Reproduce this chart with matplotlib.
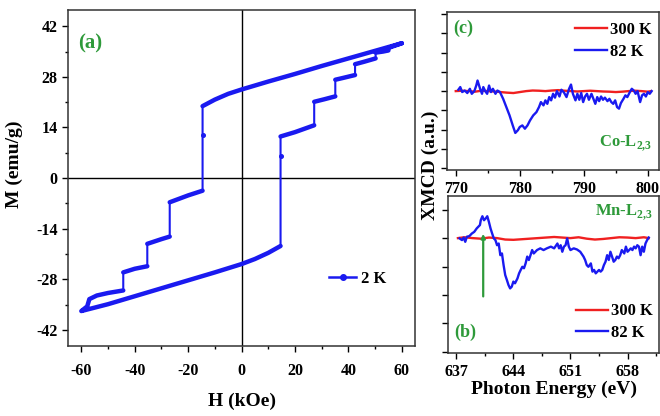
import numpy as np
import matplotlib
matplotlib.use('Agg')
import matplotlib.pyplot as plt
from matplotlib.lines import Line2D
from matplotlib.ticker import MultipleLocator

plt.rcParams['font.family'] = ['Liberation Serif', 'DejaVu Serif']
plt.rcParams['font.weight'] = 'bold'
plt.rcParams['axes.labelweight'] = 'bold'
plt.rcParams['axes.unicode_minus'] = False
plt.rcParams['mathtext.fontset'] = 'custom'
plt.rcParams['mathtext.rm'] = 'Liberation Serif:bold'
plt.rcParams['mathtext.bf'] = 'Liberation Serif:bold'

# ---- (a) hysteresis loop at 2 K, field descending then ascending
H_loop = [60, 50, 40, 30, 20, 10, 0, -5, -10, -14.6, -14.6, -14.6,
          -20, -26.9, -26.9, -30, -35.3, -35.3, -40, -44.3, -44.3,
          -50, -54.2, -57, -57.8, -60,
          -50, -40, -30, -20, -10, 0, 5, 10, 14.6, 14.6, 14.6,
          20, 27.2, 27.2, 31, 35.1, 35.1, 38, 42.5, 42.5, 46, 50.2, 50.2,
          53, 55, 55, 60]
M_loop = [37.3, 35.2, 33.1, 31.0, 28.8, 26.7, 24.5, 23.3, 21.7, 19.9, 11.9, -3.5,
          -4.8, -6.7, -16.2, -16.9, -18.2, -24.4, -25.1, -26.1, -31.1,
          -31.8, -32.5, -33.5, -35.5, -36.8,
          -34.9, -32.7, -30.5, -28.3, -26.1, -23.8, -22.4, -20.7, -18.8, 6.0, 11.5,
          12.7, 14.6, 21.1, 21.8, 22.6, 27.2, 27.7, 28.5, 31.5, 32.2, 33.1, 34.7,
          35.0, 35.3, 36.0, 37.3]

# ---- (c) Co L2,3 edge XMCD
E_co = [770.4, 770.7, 771.0, 771.4, 771.8, 772.2, 772.5, 772.9, 773.2, 773.4,
        773.8, 774.1, 774.3, 774.6, 774.9, 775.2, 775.5, 775.8, 776.2, 776.5,
        776.9, 777.4, 777.9, 778.4, 778.9, 779.3, 779.7, 780.0, 780.4, 780.8,
        781.2, 781.6, 782.1, 782.6, 783.0, 783.3, 783.7, 784.0, 784.3, 784.6,
        784.9, 785.2, 785.5, 785.8, 786.2, 786.5, 786.9, 787.3, 787.7, 788.0,
        788.3, 788.7, 789.0, 789.3, 789.6, 789.9, 790.2, 790.5, 790.8, 791.2,
        791.5, 791.8, 792.1, 792.4, 792.7, 793.0, 793.3, 793.7, 794.0, 794.3,
        794.6, 794.9, 795.2, 795.5, 795.8, 796.2, 796.5, 796.8, 797.2, 797.5,
        797.8, 798.1, 798.4, 798.8, 799.1, 799.4, 799.7, 800.0, 800.3, 800.6]
co_82K = [0.07, 0.21, -0.05, 0.03, -0.10, 0.12, -0.14, 0.0, 0.29, 0.55,
          0.12, -0.14, 0.21, 0.0, -0.14, 0.29, -0.05, 0.12, -0.14, 0.03,
          -0.05, -0.40, -0.83, -1.26, -1.78, -2.17, -2.03, -1.86, -1.78, -1.95,
          -1.78, -1.52, -1.26, -1.09, -0.83, -0.57, -0.74, -0.48, -0.66, -0.31,
          -0.48, -0.14, -0.34, 0.0, -0.28, 0.07, -0.07, -0.31, 0.12, 0.34,
          -0.14, -0.48, -0.14, -0.45, -0.10, -0.57, -0.28, -0.14, -0.45, -0.14,
          -0.40, -0.66, -0.31, -0.52, -0.28, -0.45, -0.34, -0.52, -0.40, -0.57,
          -0.66, -0.48, -0.83, -0.91, -0.62, -0.40, -0.22, -0.31, -0.05, 0.12,
          0.03, -0.14, 0.0, -0.57, -0.22, -0.14, -0.28, -0.05, -0.14, 0.0]
E_co_300 = [770, 771, 772, 773, 774, 775, 776, 777, 778, 779, 780, 781, 782,
            783, 784, 785, 786, 787, 788, 789, 790, 791, 792, 793, 794, 795,
            796, 797, 798, 799, 800, 800.5]
co_300K = [0.0, 0.02, 0.0, -0.03, 0.02, 0.0, -0.02, -0.05, -0.08, -0.10, -0.05,
           0.0, 0.03, 0.02, 0.0, 0.03, 0.05, 0.02, 0.0, -0.02, 0.0, 0.02, 0.0,
           -0.02, -0.03, -0.05, -0.03, 0.0, 0.02, 0.0, -0.03, 0.0]

# ---- (b) Mn L2,3 edge XMCD
E_mn = [637.4, 637.7, 637.9, 638.1, 638.3, 638.6, 638.9, 639.2, 639.5, 639.9,
        640.0, 640.2, 640.4, 640.6, 640.8, 641.0, 641.2, 641.4, 641.6, 641.8,
        642.0, 642.2, 642.4, 642.6, 642.8, 643.0, 643.2, 643.4, 643.6, 643.8,
        644.0, 644.2, 644.5, 644.7, 644.9, 645.1, 645.3, 645.5, 645.7, 645.9,
        646.1, 646.3, 646.5, 646.9, 647.3, 647.7, 648.1, 648.6, 649.0, 649.4,
        649.6, 649.8, 650.0, 650.2, 650.4, 650.6, 650.8, 651.0, 651.4, 651.8,
        652.2, 652.6, 652.8, 653.0, 653.2, 653.5, 653.7, 653.9, 654.1, 654.3,
        654.5, 654.7, 654.9, 655.1, 655.3, 655.5, 655.7, 655.9, 656.1, 656.3,
        656.5, 656.7, 656.9, 657.1, 657.3, 657.6, 657.8, 658.0, 658.2, 658.4,
        658.6, 658.8, 659.0, 659.2, 659.4, 659.6, 659.8, 660.0, 660.2, 660.4,
        660.6]
mn_82K = [-0.01, -0.07, 0.02, -0.13, 0.05, 0.07, 0.16, 0.22, 0.34, 0.46,
          0.63, 0.77, 0.63, 0.69, 0.77, 0.57, 0.34, 0.16, -0.01, -0.07,
          -0.25, -0.19, -0.60, -0.54, -0.95, -1.30, -1.47, -1.65, -1.77, -1.71,
          -1.53, -1.59, -1.42, -1.24, -1.12, -1.01, -1.06, -0.89, -0.65, -0.77,
          -0.60, -0.42, -0.54, -0.42, -0.36, -0.42, -0.36, -0.30, -0.36, -0.19,
          -0.36, -0.25, -0.48, -0.30, -0.25, -0.01, -0.30, -0.42, -0.36, -0.40,
          -0.48, -0.65, -0.77, -0.95, -1.01, -0.89, -1.18, -1.12, -1.24, -1.18,
          -1.12, -1.18, -1.12, -0.95, -0.83, -0.60, -0.77, -0.48, -0.65, -0.83,
          -0.77, -0.65, -0.71, -0.60, -0.42, -0.54, -0.30, -0.48, -0.42, -0.36,
          -0.42, -0.30, -0.36, -0.25, -0.30, -0.60, -0.30, -0.48, -0.19, -0.07,
          0.02]
E_mn_300 = [637.2, 638, 639, 640, 641, 642, 643, 644, 645, 646, 647, 648, 649,
            650, 651, 652, 653, 654, 655, 656, 657, 658, 659, 660, 660.6]
mn_300K = [0.0, 0.03, 0.0, -0.02, 0.02, 0.0, -0.05, -0.06, -0.04, -0.02, 0.0,
           0.02, 0.04, 0.02, 0.0, 0.03, -0.02, -0.05, -0.03, 0.0, 0.03, 0.02,
           0.0, 0.03, 0.0]

# green marker line in (b)
E_mark = 640.3
mark_range = [-2.15, 0.25]

blue = '#1a1af0'
red = '#f02020'
green = '#2e9a3a'

fig = plt.figure(figsize=(6.6, 4.16), dpi=100)
ax_a = fig.add_axes([0.103, 0.168, 0.526, 0.808])
ax_c = fig.add_axes([0.677, 0.591, 0.321, 0.380])
ax_b = fig.add_axes([0.679, 0.151, 0.320, 0.377])

# -----------------------------------------------------------------------------
# panel (a)
ax_a.axhline(0, color='k', lw=1.0, zorder=1)
ax_a.axvline(0, color='k', lw=1.0, zorder=1)
H = np.array(H_loop, dtype=float)
M = np.array(M_loop, dtype=float)
# dots only show on the jumps, the sloped parts hide them
mid_jump = [i for i in range(1, len(H) - 1) if H[i - 1] == H[i] == H[i + 1]]
ax_a.plot(H, M, color=blue, lw=1.5, marker='o', ms=2.6, markevery=mid_jump,
          zorder=3)
# sloping parts are denser in data, draw them heavier (break at the jumps)
Hs, Ms = [H[0]], [M[0]]
for i in range(1, len(H)):
    if H[i] == H[i - 1]:
        Hs.append(np.nan)
        Ms.append(np.nan)
    Hs.append(H[i])
    Ms.append(M[i])
ax_a.plot(Hs, Ms, color=blue, lw=3.2, solid_capstyle='round',
          solid_joinstyle='round', zorder=4)
ax_a.set_xlim(-65, 65)
ax_a.set_ylim(-46.5, 46.5)
ax_a.set_xticks([-60, -40, -20, 0, 20, 40, 60])
ax_a.set_yticks([-42, -28, -14, 0, 14, 28, 42])
ax_a.xaxis.set_minor_locator(MultipleLocator(10))
ax_a.yaxis.set_minor_locator(MultipleLocator(7))
ax_a.set_xlabel('H (kOe)', fontsize=14)
ax_a.set_ylabel('M (emu/g)', fontsize=14)
ax_a.yaxis.set_label_coords(-0.13, 0.54)
ax_a.xaxis.set_label_coords(0.5, -0.14)
ax_a.text(0.03, 0.9, '(a)', transform=ax_a.transAxes, color=green,
          fontsize=15, va='center')
h2k = Line2D([], [], color=blue, lw=1.8, marker='o', ms=4)
ax_a.legend([h2k], ['2 K'], loc='center left', bbox_to_anchor=(0.71, 0.2),
            frameon=False, fontsize=12, handlelength=1.6, handletextpad=0.3,
            numpoints=1)

# -----------------------------------------------------------------------------
# panel (c)
ax_c.plot(E_co_300, co_300K, color=red, lw=1.7, label='300 K')
ax_c.plot(E_co, co_82K, color=blue, lw=1.7, label='82 K')
ax_c.set_xlim(768.6, 801.7)
ax_c.set_ylim(-4.1, 4.1)
ax_c.set_xticks([770, 780, 790, 800])
ax_c.xaxis.set_minor_locator(MultipleLocator(5))
ax_c.yaxis.set_major_locator(MultipleLocator(1))
ax_c.set_yticklabels([])
ax_c.text(0.03, 0.9, '(c)', transform=ax_c.transAxes, color=green,
          fontsize=13, va='center')
ax_c.text(0.97, 0.17, 'Co-L$_{2{,}3}$', transform=ax_c.transAxes,
          color=green, fontsize=12, ha='right', va='center')
ax_c.legend(loc='upper right', bbox_to_anchor=(1.04, 1.03), frameon=False,
            fontsize=12, handlelength=1.9, handletextpad=0.2, labelspacing=0.35)

# -----------------------------------------------------------------------------
# panel (b)
ax_b.plot(E_mn_300, mn_300K, color=red, lw=1.7, label='300 K')
ax_b.plot(E_mn, mn_82K, color=blue, lw=1.7, label='82 K')
ax_b.annotate('', xy=(E_mark, mark_range[1]), xytext=(E_mark, mark_range[0]),
              arrowprops=dict(arrowstyle='-|>', color=green, lw=1.6,
                              mutation_scale=6))
ax_b.set_xlim(636.0, 661.9)
ax_b.set_ylim(-4.05, 1.47)
ax_b.set_xticks([637, 644, 651, 658])
ax_b.xaxis.set_minor_locator(MultipleLocator(3.5))
ax_b.yaxis.set_major_locator(MultipleLocator(1))
ax_b.set_yticklabels([])
ax_b.set_xlabel('Photon Energy (eV)', fontsize=14, labelpad=1)
ax_b.text(0.03, 0.13, '(b)', transform=ax_b.transAxes, color=green,
          fontsize=13, va='center')
ax_b.text(0.97, 0.9, 'Mn-L$_{2{,}3}$', transform=ax_b.transAxes,
          color=green, fontsize=12, ha='right', va='center')
ax_b.legend(loc='lower right', bbox_to_anchor=(1.04, -0.02), frameon=False,
            fontsize=12, handlelength=1.9, handletextpad=0.2, labelspacing=0.35)

fig.text(430 / 660, 1 - 165 / 416, 'XMCD (a.u.)', rotation=90, ha='center',
         va='center', fontsize=14)

for a in (ax_a, ax_b, ax_c):
    a.tick_params(which='both', direction='out', top=False, right=False,
                  labelsize=11.5, width=1)
    a.tick_params(which='major', length=4)
    a.tick_params(which='minor', length=2)
    for s in a.spines.values():
        s.set_color('#333333')
        s.set_linewidth(1.1)
ax_a.tick_params(axis='x', pad=8)

fig.savefig('out.png', dpi=100)
